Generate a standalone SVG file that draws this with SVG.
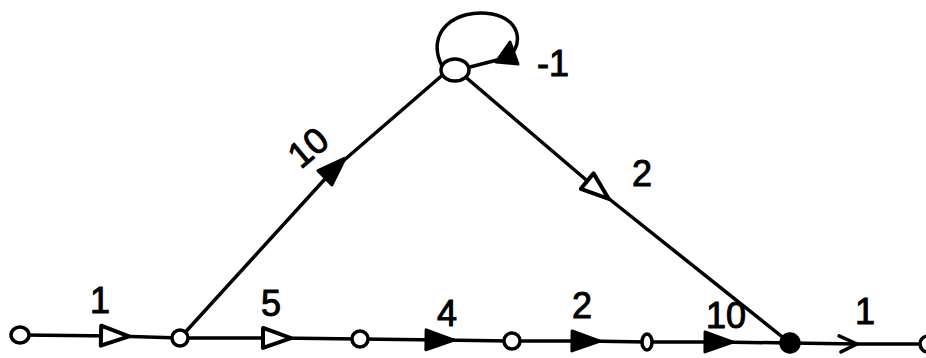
<svg xmlns="http://www.w3.org/2000/svg" width="926" height="358" viewBox="0 0 926 358">
<style>
.e{fill:none;stroke:#000;stroke-width:3.5;stroke-linecap:round;stroke-linejoin:round}
.n{fill:#fff;stroke:#000;stroke-width:3.5}
.nf{fill:#000;stroke:#000;stroke-width:3.5}
.t{font-family:"Liberation Sans",Arial,sans-serif;font-size:36px;fill:#000;stroke:#000;stroke-width:1}
</style>
<defs>
<marker id="af" viewBox="-2 -2 32 24" refX="14" refY="10" markerWidth="32" markerHeight="24" markerUnits="userSpaceOnUse" orient="auto" overflow="visible">
<path d="M0,0 L28,10 L0,20 z" fill="#000" stroke="#000" stroke-width="3" stroke-linejoin="round"/>
</marker>
<marker id="ah" viewBox="-2 -2 32 24" refX="14" refY="10" markerWidth="32" markerHeight="24" markerUnits="userSpaceOnUse" orient="auto" overflow="visible">
<path d="M0,0 L28,10 L0,20 z" fill="#fff" stroke="#000" stroke-width="4" stroke-linejoin="round"/>
</marker>
<marker id="ac" viewBox="-2 -2 24 20" refX="18" refY="8" markerWidth="24" markerHeight="20" markerUnits="userSpaceOnUse" orient="auto" overflow="visible">
<path d="M0,0 L18,8 L2,16" fill="none" stroke="#000" stroke-width="3.5" stroke-linejoin="round" stroke-linecap="round"/>
</marker>
</defs>
<rect width="926" height="358" fill="#fff"/>
<g id="connectors">
<path class="e" d="M22 335 L115 336 L180 338" marker-mid="url(#ah)"/>
<path class="e" d="M180 338 L277 338 L360 339" marker-mid="url(#ah)"/>
<path class="e" d="M360 339 L440 340 L512 341" marker-mid="url(#af)"/>
<path class="e" d="M512 341 L586 341 L647 342" marker-mid="url(#af)"/>
<path class="e" d="M647 342 L719 342 L790 343" marker-mid="url(#af)"/>
<path class="e" d="M790 343 L857 344 L926 344" marker-mid="url(#ac)"/>
<path class="e" d="M180 338 L335 168 L446 72" marker-mid="url(#af)"/>
<path class="e" d="M462 74 L598 190 L790 343" marker-mid="url(#ah)"/>
<path class="e" d="M442 66 C425 32, 455 8, 492 14 C525 20, 522 52, 505 58 L470 67"/>
<path d="M496 62 L510 42 L518 64 z" fill="#000" stroke="#000" stroke-width="3" stroke-linejoin="round"/>
</g>
<g id="node1"><ellipse class="n" cx="20" cy="335" rx="9" ry="8"/></g>
<g id="node2"><circle class="n" cx="180" cy="338" r="8"/></g>
<g id="node3"><circle class="n" cx="360" cy="339" r="8"/></g>
<g id="node4"><circle class="n" cx="512" cy="341" r="8"/></g>
<g id="node5"><ellipse class="n" cx="647" cy="342" rx="5" ry="8"/></g>
<g id="node6"><circle class="nf" cx="790" cy="343" r="9"/></g>
<g id="node7"><circle class="n" cx="928" cy="344" r="8"/></g>
<g id="nodeTop"><ellipse class="n" cx="455" cy="70" rx="14" ry="11"/></g>
<g id="labels">
<text class="t" x="100" y="313" text-anchor="middle">1</text>
<text class="t" x="271" y="316" text-anchor="middle">5</text>
<text class="t" x="447" y="326" text-anchor="middle" font-size="44">4</text>
<text class="t" x="582" y="318" text-anchor="middle">2</text>
<text class="t" x="726" y="328" text-anchor="middle">10</text>
<text class="t" x="865" y="324" text-anchor="middle">1</text>
<text class="t" x="642" y="186" text-anchor="middle">2</text>
<text class="t" x="553" y="76" text-anchor="middle">-1</text>
<text class="t" x="0" y="0" text-anchor="middle" transform="translate(316,157) rotate(-40)">10</text>
</g>
</svg>
